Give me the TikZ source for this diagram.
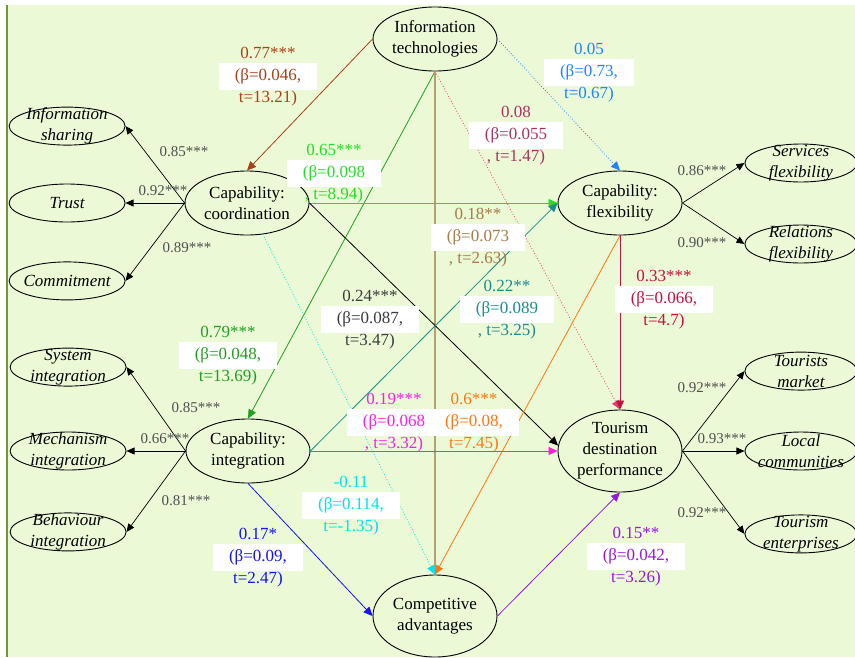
\documentclass[tikz,border=0pt]{standalone}
\usepackage{fontspec}
\setmainfont{Liberation Serif}
\usepackage{tikz}
\usetikzlibrary{positioning, shapes.geometric, arrows.meta}

\definecolor{bgreen}{RGB}{235,249,215}
\definecolor{frame}{RGB}{112,150,64}
\definecolor{cbrown}{RGB}{168,66,24}
\definecolor{clime}{RGB}{36,222,36}
\definecolor{csky}{RGB}{30,132,255}
\definecolor{cplum}{RGB}{168,52,100}
\definecolor{cpink}{RGB}{228,64,112}
\definecolor{ctan}{RGB}{166,124,72}
\definecolor{ctanline}{RGB}{182,160,112}
\definecolor{cdark}{RGB}{60,60,60}
\definecolor{cgreen}{RGB}{32,160,32}
\definecolor{cteal}{RGB}{28,140,140}
\definecolor{ccrimson}{RGB}{192,20,64}
\definecolor{cmagenta}{RGB}{250,30,230}
\definecolor{corange}{RGB}{255,118,16}
\definecolor{ccyan}{RGB}{0,226,238}
\definecolor{cblue}{RGB}{20,20,240}
\definecolor{cpurple}{RGB}{150,24,228}
\definecolor{cload}{RGB}{80,80,80}

\setlength{\fboxsep}{6pt}
\newcommand{\wbox}[1]{\smash{\colorbox{white}{\hspace{10pt}#1\hspace{10pt}}}}

\begin{document}
\begin{tikzpicture}[x=1pt, y=-1pt,
	latent/.style={ellipse, draw, line width=0.9pt, minimum width=124pt, minimum height=64pt, inner sep=0pt, align=center, font=\fontsize{17}{21}\selectfont},
	ind/.style={ellipse, draw, line width=0.9pt, minimum width=116pt, minimum height=38pt, inner sep=0pt, label={[align=center, font=\fontsize{17}{21}\selectfont\itshape]center:#1}},
	ld/.style={-{Triangle[length=8pt, width=7pt]}, line width=0.7pt},
	pth/.style={-{Triangle[length=9pt, width=8pt]}, line width=0.8pt},
	load/.style={text=cload, inner sep=0pt, font=\fontsize{15}{18}\selectfont},
	est/.style={align=center, inner sep=0pt, font=\fontsize{17}{22}\selectfont}]
	\useasboundingbox (0,0) rectangle (855,657);
	\fill[bgreen] (7,5) rectangle (855,657);
	\draw[frame, line width=1.5pt] (7,5) -- (7,657);
	
	% Costrutti latenti
	\node[latent] (it) at (435,39) {Information\\technologies};
	\node[latent] (coord) at (247,203) {Capability:\\coordination};
	\node[latent] (flex) at (620,203) {Capability:\\flexibility};
	\node[latent] (integ) at (248,451) {Capability:\\integration};
	\node[latent, minimum height=82pt] (tdp) at (620,451) {Tourism\\destination\\performance};
	\node[latent, minimum height=82pt] (comp) at (435,616) {Competitive\\advantages};
	
	% Indicatori
	\node[ind=Trust, left=59pt of coord] (trust) {};
	\node[ind={Information\\sharing}, above=38pt of trust] (share) {};
	\node[ind=Commitment, below=39pt of trust] (commit) {};
	\node[ind={Mechanism\\integration}, left=59pt of integ] (mechint) {};
	\node[ind={System\\integration}, above=45pt of mechint] (sysint) {};
	\node[ind={Behaviour\\integration}, below=42pt of mechint] (behint) {};
	\node[ind={Services\\flexibility}, minimum width=112pt, right=62pt of flex, yshift=40pt] (servflex) {};
	\node[ind={Relations\\flexibility}, minimum width=112pt, right=62pt of flex, yshift=-41pt] (relflex) {};
	\node[ind={Local\\communities}, minimum width=112pt, right=62pt of tdp] (local) {};
	\node[ind={Tourists\\market}, minimum width=112pt, above=41pt of local] (tmarket) {};
	\node[ind={Tourism\\enterprises}, minimum width=112pt, below=44pt of local] (tent) {};
	
	\draw[ld] (coord.west) -- (share.east);
	\draw[ld] (coord.west) -- (trust.east);
	\draw[ld] (coord.west) -- (commit.east);
	\draw[ld] (integ.west) -- (sysint.east);
	\draw[ld] (integ.west) -- (mechint.east);
	\draw[ld] (integ.west) -- (behint.east);
	\draw[ld] (flex.east) -- (servflex.west);
	\draw[ld] (flex.east) -- (relflex.west);
	\draw[ld] (tdp.east) -- (tmarket.west);
	\draw[ld] (tdp.east) -- (local.west);
	\draw[ld] (tdp.east) -- (tent.west);
	
	\node[load] (l1) at (184,152) {0.85***};
	\node[load] (l2) at (163,191) {0.92***};
	\node[load] (l3) at (187,248) {0.89***};
	\node[load] (l4) at (196,408) {0.85***};
	\node[load] (l5) at (165,439) {0.66***};
	\node[load] (l6) at (186,501) {0.81***};
	\node[load] (l7) at (702,171) {0.86***};
	\node[load] (l8) at (702,243) {0.90***};
	\node[load] (l9) at (702,388) {0.92***};
	\node[load] (l10) at (722,439) {0.93***};
	\node[load] (l11) at (702,513) {0.92***};
	
	% Relazioni strutturali
	\draw[pth, cbrown] (it.west) -- (coord.north);
	\draw[pth, cgreen] (it.south) -- (integ.north);
	\draw[pth, ctanline, line width=1.1pt] (it.south) -- (comp.north);
	\draw[pth, csky, dotted] (it.east) -- (flex.north);
	\draw[pth, cpink, dotted] (it.south) -- (tdp.north);
	\draw[pth, clime] (coord.east) -- (flex.west);
	\draw[pth, black] (coord.east) -- (tdp.175);
	\draw[pth, ccyan, dotted] (coord) -- (comp.north);
	\draw[pth, cteal] (integ.east) -- (flex.west);
	\draw[pth, cmagenta] (integ.east) -- (tdp.west);
	\draw[pth, cblue] (integ.south) -- (comp.west);
	\draw[pth, corange] (flex.south) -- (comp.north);
	\draw[pth, ccrimson] (flex.south) -- (tdp.north);
	\draw[pth, cpurple] (comp.east) -- (tdp.south);
	
	\node[est, text=cbrown] (e77) at (268,77) {0.77***\\\wbox{(β=0.046,}\\t=13.21)};
	\node[est, text=clime] (e65) at (334,174) {0.65***\\\wbox{(β=0.098}\\, t=8.94)};
	\node[est, text=csky] (e05) at (589,73) {0.05\\\wbox{(β=0.73,}\\t=0.67)};
	\node[est, text=cplum] (e08) at (516,136) {0.08\\\wbox{(β=0.055}\\, t=1.47)};
	\node[est, text=ctan] (e18) at (478,238) {0.18**\\\wbox{(β=0.073}\\, t=2.63)};
	\node[est, text=cdark] (e24) at (370,320) {0.24***\\\wbox{(β=0.087,}\\t=3.47)};
	\node[est, text=cgreen] (e79) at (228,356) {0.79***\\\wbox{(β=0.048,}\\t=13.69)};
	\node[est, text=cteal] (e22) at (507,310) {0.22**\\\wbox{(β=0.089}\\, t=3.25)};
	\node[est, text=ccrimson] (e33) at (664,300) {0.33***\\\wbox{(β=0.066,}\\t=4.7)};
	\node[est, text=cmagenta] (e19) at (394,423) {0.19***\\\wbox{(β=0.068}\\, t=3.32)};
	\node[est, text=corange] (e6) at (474,423) {0.6***\\\wbox{(β=0.08,}\\t=7.45)};
	\node[est, text=ccyan] (e11) at (351,506) {-0.11\\\wbox{(β=0.114,}\\t=-1.35)};
	\node[est, text=cblue] (e17) at (258,558) {0.17*\\\wbox{(β=0.09,}\\t=2.47)};
	\node[est, text=cpurple] (e15) at (636,557) {0.15**\\\wbox{(β=0.042,}\\t=3.26)};
\end{tikzpicture}
\end{document}
